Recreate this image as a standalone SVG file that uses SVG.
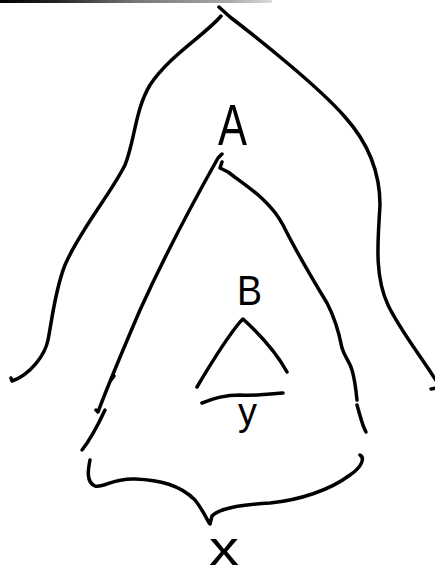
<svg xmlns="http://www.w3.org/2000/svg" width="435" height="577" viewBox="0 0 435 577">
<defs>
<linearGradient id="bar" x1="0" y1="0" x2="1" y2="0">
<stop offset="0" stop-color="#000"/>
<stop offset="0.2" stop-color="#222"/>
<stop offset="0.5" stop-color="#777"/>
<stop offset="0.85" stop-color="#aaa"/>
<stop offset="1" stop-color="#ddd"/>
</linearGradient>
</defs>
<style>
.s{fill:none;stroke:#000;stroke-width:3.5;stroke-linecap:round;stroke-linejoin:round}
.t{font-family:"Liberation Sans",Arial,sans-serif;fill:#000}
</style>
<rect x="0" y="0" width="272" height="3" fill="url(#bar)"/>
<g id="outer">
<path class="s" d="M221,16 C205,35 170,55 150,85 C135,110 135,140 125,165 C110,195 80,230 65,265 C55,290 52,320 48,340 C45,355 30,375 12,381 L11,378"/>
<path class="s" d="M219,7 L230,17 C260,40 320,88 345,117 C370,145 380,175 380,205 C378,240 374,275 388,305 C400,330 420,355 437,382"/>
<path class="s" d="M431,389 L436,388"/>
</g>
<g id="nodeA">
<text class="t" x="218" y="145" font-size="58" textLength="29" lengthAdjust="spacingAndGlyphs">A</text>
</g>
<g id="triangleA">
<path class="s" d="M222,154 L218,158 C200,190 165,255 140,310 C125,345 110,380 98,412 L96,410"/>
<path class="s" d="M111,380 L114,376"/>
<path class="s" d="M105,410 C98,425 90,440 82,450"/>
<path class="s" d="M222,162 L220,168 L228,172 C245,185 270,200 283,225 C293,245 310,275 327,303 C337,322 340,338 342,348 C345,358 350,362 352,370 C355,380 356,390 357,400"/>
<path class="s" d="M357,405 C360,415 362,425 366,432"/>
</g>
<g id="nodeB">
<text class="t" x="237" y="305" font-size="42" textLength="25" lengthAdjust="spacingAndGlyphs">B</text>
<path class="s" d="M197,387 C210,365 225,340 240,322 L243,319 C255,330 275,350 287,372"/>
<path class="s" d="M202,403 C215,398 225,395 240,395 C260,396 270,394 283,393"/>
</g>
<g id="nodeY">
<text class="t" x="238" y="425" font-size="38" textLength="19" lengthAdjust="spacingAndGlyphs">y</text>
</g>
<g id="brace">
<path class="s" d="M90,460 C88,470 86,482 95,486 C105,488 112,478 135,479 C160,480 180,485 195,500 C203,510 207,520 210,524 L212,516 C220,508 240,505 270,503 C300,500 330,490 350,475 C362,467 365,458 360,455"/>
</g>
<g id="nodeX">
<text class="t" x="209" y="565" font-size="48" textLength="30" lengthAdjust="spacingAndGlyphs">x</text>
</g>
</svg>
